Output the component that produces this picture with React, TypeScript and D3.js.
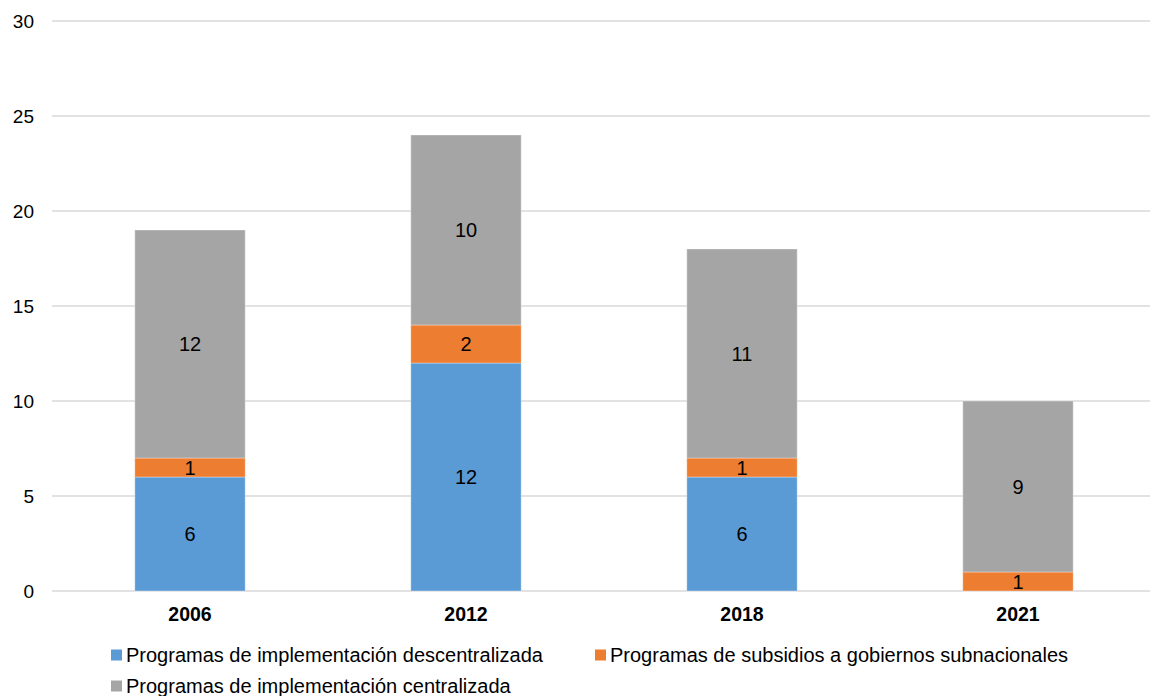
import { useEffect, useRef } from 'react';
import * as d3 from 'd3';

const years = ['2006', '2012', '2018', '2021'];
const descentralizada = [6, 12, 6, 0];
const subsidios = [1, 2, 1, 1];
const centralizada = [12, 10, 11, 9];
const yTicks = [0, 5, 10, 15, 20, 25, 30];

const seriesNames = [
    'Programas de implementación descentralizada',
    'Programas de subsidios a gobiernos subnacionales',
    'Programas de implementación centralizada',
];
const colors = ['#5b9bd5', '#ed7d31', '#a5a5a5'];

const W = 1150;
const H = 696;

export default function App() {
    const ref = useRef<SVGSVGElement | null>(null);

    useEffect(() => {
        const svg = d3.select(ref.current);
        svg.selectAll('*').remove();

        const left = 52, right = 1156, top = 21, bottom = 591;
        const font = 'Liberation Sans, Arial, sans-serif';

        const x = d3.scaleBand<string>().domain(years).range([left, right])
            .paddingInner(0.6).paddingOuter(0.3);
        const y = d3.scaleLinear().domain([0, 30]).range([bottom, top]);

        // gridlines
        svg.append('g').selectAll('line').data(yTicks).join('line')
            .attr('x1', left).attr('x2', W)
            .attr('y1', d => y(d)).attr('y2', d => y(d))
            .attr('stroke', '#d9d9d9').attr('stroke-width', 1.5);

        svg.append('g').selectAll('text').data(yTicks).join('text')
            .attr('x', 34).attr('y', d => y(d))
            .attr('dy', '0.35em')
            .attr('text-anchor', 'end')
            .attr('font-family', font).attr('font-size', 19)
            .attr('fill', '#000')
            .text(d => d);

        const rows = years.map((yr, i) => ({
            year: yr,
            s0: descentralizada[i],
            s1: subsidios[i],
            s2: centralizada[i],
        }));
        const stack = d3.stack<any>().keys(['s0', 's1', 's2']);
        const layers = stack(rows);

        layers.forEach((layer, li) => {
            const g = svg.append('g');
            g.selectAll('rect').data(layer.filter(d => d[1] - d[0] > 0)).join('rect')
                .attr('x', d => x(d.data.year)!)
                .attr('width', x.bandwidth())
                .attr('y', d => y(d[1]))
                .attr('height', d => y(d[0]) - y(d[1]))
                .attr('fill', colors[li])
                .attr('stroke', '#ffffff').attr('stroke-opacity', 0.35).attr('stroke-width', 1);
            g.selectAll('text').data(layer.filter(d => d[1] - d[0] > 0)).join('text')
                .attr('x', d => x(d.data.year)! + x.bandwidth() / 2)
                .attr('y', d => y((d[0] + d[1]) / 2))
                .attr('dy', '0.35em')
                .attr('text-anchor', 'middle')
                .attr('font-family', font).attr('font-size', 20)
                .attr('fill', '#000')
                .text(d => d[1] - d[0]);
        });

        // x axis labels
        svg.append('g').selectAll('text').data(years).join('text')
            .attr('x', d => x(d)! + x.bandwidth() / 2)
            .attr('y', 614).attr('dy', '0.35em')
            .attr('text-anchor', 'middle')
            .attr('font-family', font).attr('font-size', 19.5).attr('font-weight', 'bold')
            .attr('fill', '#000')
            .text(d => d);

        // legend
        const legendPos = [
            { x: 111, y: 655 },
            { x: 595, y: 655 },
            { x: 111, y: 686 },
        ];
        const lg = svg.append('g');
        seriesNames.forEach((name, i) => {
            const p = legendPos[i];
            lg.append('rect')
                .attr('x', p.x).attr('y', p.y - 5.5)
                .attr('width', 11).attr('height', 11)
                .attr('fill', colors[i]);
            lg.append('text')
                .attr('x', p.x + 15).attr('y', p.y).attr('dy', '0.35em')
                .attr('font-family', font).attr('font-size', 20)
                .attr('fill', '#000')
                .text(name);
        });
    }, []);

    return (
        <svg ref={ref} width={W} height={H}
            style={{ position: 'absolute', left: 0, top: 0, background: '#fff' }} />
    );
}
